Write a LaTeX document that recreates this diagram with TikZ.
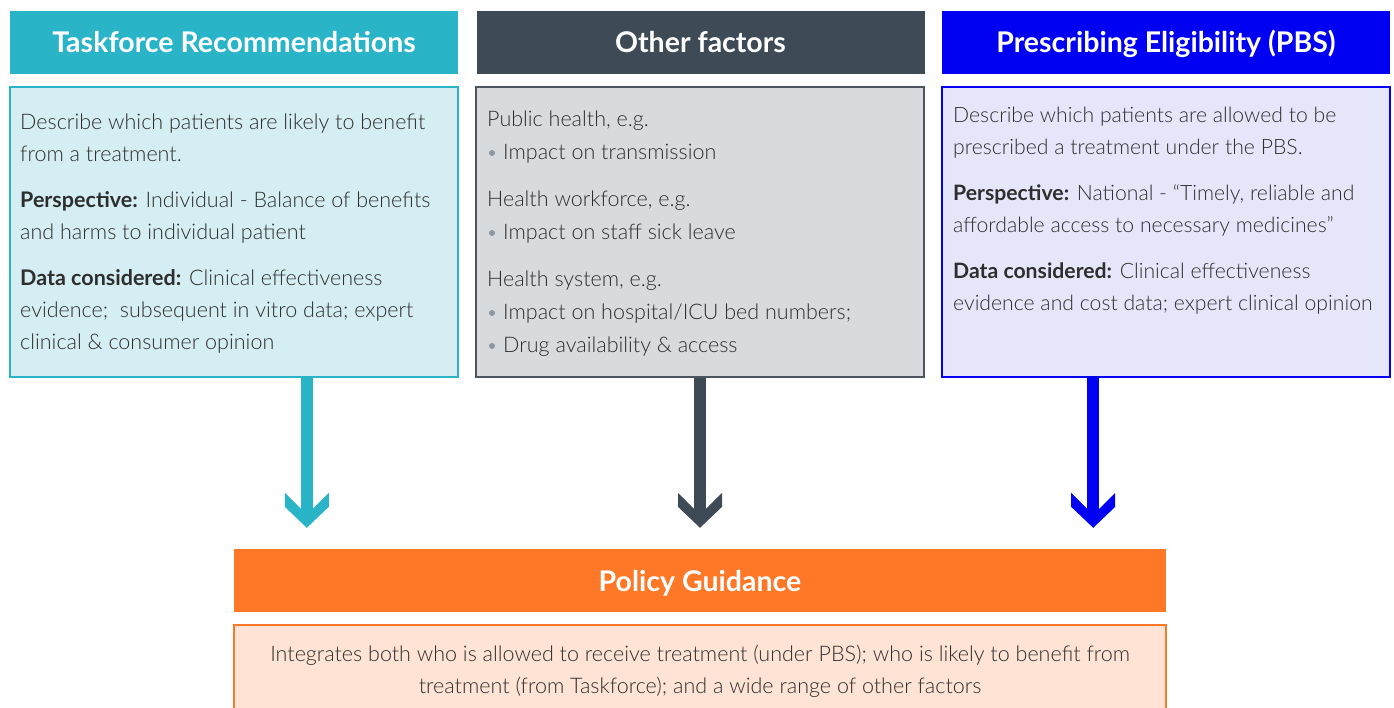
\documentclass[tikz,border=0pt]{standalone}
\usepackage{fontspec}
\setmainfont{Lato Light}[BoldFont={Lato Bold}]
\newfontfamily\headfont{Lato Bold}
\usetikzlibrary{calc}

\definecolor{tfc}{HTML}{29B4C8}
\definecolor{tfl}{HTML}{D5EEF3}
\definecolor{ofc}{HTML}{3E4A56}
\definecolor{ofl}{HTML}{D8DBDE}
\definecolor{ofe}{HTML}{4B5661}
\definecolor{pbc}{HTML}{0000F2}
\definecolor{pbl}{HTML}{E6E6FA}
\definecolor{pgc}{HTML}{FF7828}
\definecolor{pgl}{HTML}{FFE3D4}
\definecolor{bodytext}{HTML}{2E2E2E}
\definecolor{bulc}{HTML}{8A96A0}

\tikzset{
  hdr/.style={minimum width=448pt, minimum height=63pt, inner sep=0pt,
    text height=21pt, text depth=0pt,
    text=white, font=\headfont\fontsize{28.5}{32}\selectfont},
  bodybox/.style={line width=1.5pt, minimum width=448pt, minimum height=290pt, inner sep=0pt},
  bodytxt/.style={anchor=north west, inner sep=0pt, align=left, text=bodytext,
    font=\fontsize{21.5}{32}\selectfont},
  bulletdot/.style={fill=bulc},
  chevron/.pic={
    \fill (0,0) -- (22,-21) -- (22,-35) -- (0,-13) -- (-22,-35) -- (-22,-21) -- cycle;
  },
  shaft/.style={line width=11.5pt}
}
\newcommand{\indentbullet}{\hspace*{16pt}}

\begin{document}
\begin{tikzpicture}[x=1pt,y=-1pt]
\useasboundingbox (0,0) rectangle (1394,708);
\clip (0,0) rectangle (1394,708);

% column headers
\node[hdr, fill=tfc] (tfh) at (234,42.5) {Taskforce Recommendations};
\node[hdr, fill=ofc] (ofh) at (700.5,42.5) {Other factors};
\node[hdr, fill=pbc] (pbh) at (1166,42.5) {Prescribing Eligibility (PBS)};

% column bodies
\node[bodybox, draw=tfc, fill=tfl] (tfb) at (234,232) {};
\node[bodybox, draw=ofe, fill=ofl] (ofb) at (700,232) {};
\node[bodybox, draw=pbc, fill=pbl] (pbb) at (1166,232) {};

\node[bodytxt] (tft) at (20,113.5) {Describe which patients are likely to benefit\\
from a treatment.\\[14pt]
\textbf{Perspective:} Individual - Balance of benefits\\
and harms to individual patient\\[14pt]
\textbf{Data considered:} Clinical effectiveness\\
evidence;\ \ subsequent in vitro data; expert\\
clinical \& consumer opinion};

\node[bodytxt, font=\fontsize{21.5}{33}\selectfont] (oft) at (487,111) {Public health, e.g.\\
\indentbullet Impact on transmission\\[14pt]
Health workforce, e.g.\\
\indentbullet Impact on staff sick leave\\[14pt]
Health system, e.g.\\
\indentbullet Impact on hospital/ICU bed numbers;\\
\indentbullet Drug availability \& access};

% list bullets
\fill[bulletdot] (492,153) circle (3);
\fill[bulletdot] (492,233) circle (3);
\fill[bulletdot] (492,313) circle (3);
\fill[bulletdot] (492,346) circle (3);

\node[bodytxt, font=\fontsize{21.2}{32}\selectfont] (pbt) at (953,107) {Describe which patients are allowed to be\\
prescribed a treatment under the PBS.\\[14pt]
\textbf{Perspective:} National - “Timely, reliable and\\
affordable access to necessary medicines”\\[14pt]
\textbf{Data considered:} Clinical effectiveness\\
evidence and cost data; expert clinical opinion};

% policy guidance
\node[hdr, fill=pgc, minimum width=932pt] (pgh) at (700,580.5) {Policy Guidance};
\node[bodybox, draw=pgc, fill=pgl, minimum width=932pt, minimum height=116pt, anchor=north] (pgb) at (700,624) {};
\node[text=bodytext, align=center, inner sep=0pt, anchor=north,
  font=\fontsize{21.5}{32}\selectfont] (pgt) at (700,644.5)
  {Integrates both who is allowed to receive treatment (under PBS); who is likely to benefit from\\
   treatment (from Taskforce); and a wide range of other factors};

% connectors into policy guidance
\coordinate (ta) at ($(pgh.north west)+(73,-21)$);
\coordinate (oa) at ($(pgh.north)+(0,-21)$);
\coordinate (pa) at ($(pgh.north east)+(-73,-21)$);

\draw[shaft, tfc] (tfb.south -| ta) -- ($(ta)+(0,-12)$);
\draw[shaft, ofc] (ofb.south -| oa) -- ($(oa)+(0,-12)$);
\draw[shaft, pbc] (pbb.south -| pa) -- ($(pa)+(0,-12)$);
\pic[fill=tfc] at (ta) {chevron};
\pic[fill=ofc] at (oa) {chevron};
\pic[fill=pbc] at (pa) {chevron};
\end{tikzpicture}
\end{document}
